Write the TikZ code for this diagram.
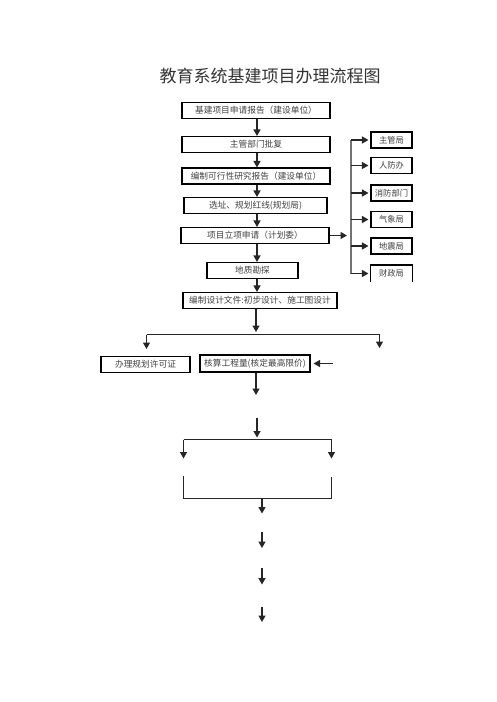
\documentclass[tikz,border=0pt]{standalone}
\usepackage{fontspec}
\setmainfont{Noto Sans CJK SC}
\usetikzlibrary{arrows.meta,calc}
\tikzset{
  box/.style={draw=black, line width=1.1pt, inner sep=0pt, minimum height=16pt, text=black!75, font=\fontsize{8.7}{10}\selectfont, align=center},
  sbox/.style={draw=black, line width=1.1pt, inner sep=0pt, minimum width=41pt, minimum height=16pt, text=black!75, font=\fontsize{8.3}{9}\selectfont},
  arr/.style={line width=1.3pt, draw=black!85, -{Triangle[width=7pt,length=6.5pt]}},
  ln/.style={line width=1.3pt, draw=black!85},
  gln/.style={line width=1.3pt, draw=black!55}
}
\begin{document}
\begin{tikzpicture}[x=1pt,y=-1pt]
\useasboundingbox (0,0) rectangle (496,702);
\node[font=\fontsize{17}{18}\selectfont, text=black!80] (title) at (270,76) {教育系统基建项目办理流程图};

\coordinate (ax) at (257,0);
\node[box, minimum width=148pt] (b1) at (256,110.5) {基建项目申请报告（建设单位）};
\node[box, minimum width=148pt] (b2) at (256,144.5) {主管部门批复};
\node[box, minimum width=148pt] (b3) at (256,176) {编制可行性研究报告（建设单位）};
\node[box, minimum width=143pt] (b4) at (255.5,205.5) {选址、规划红线(规划局)};
\node[box, minimum width=148pt] (b5) at (255,235.5) {项目立项申请（计划委）};
\node[box, minimum width=91pt] (b6) at (252.5,270.5) {地质勘探};
\node[box, minimum width=154pt] (b7) at (260,300.5) {编制设计文件:初步设计、施工图设计};

\draw[arr] (b1.south -| ax) -- (b2.north -| ax);
\draw[arr] (b2.south -| ax) -- (b3.north -| ax);
\draw[arr] (b3.south -| ax) -- (b4.north -| ax);
\draw[arr] (b4.south -| ax) -- (b5.north -| ax);
\draw[arr] (b5.south -| ax) -- (b6.north -| ax);
\draw[arr] (b6.south -| ax) -- (b7.north -| ax);

% right column
\node[sbox] (r1) at (391.5,140) {主管局};
\node[sbox] (r2) at (391.5,165.5) {人防办};
\node[sbox] (r3) at (391.5,193) {消防部门};
\node[sbox] (r4) at (391.5,219.5) {气象局};
\node[sbox] (r5) at (391.5,246) {地震局};
\node[sbox, draw=none] (r6) at (391.5,273.5) {财政局};
\draw[line width=1.1pt] (r6.south west) |- (r6.north east) -- (r6.south east);

\coordinate (bt) at (351,140);
\coordinate (bb) at (351,273.5);
\coordinate (bm) at (347,235.5);
\draw[gln] (bt) -- (bb);
\draw[arr] (b5.east) -- (bm);
\foreach \r in {r1,r2,r3,r4,r5,r6}{
  \draw[arr] (bt |- \r.west) -- ([xshift=-2pt]\r.west);
}

% lower part
\coordinate (s1) at (256,332);
\coordinate (hl) at (146.5,334.5);
\coordinate (hr) at (379.5,334.5);
\coordinate (hle) at (146.5,349);
\coordinate (hre) at (379.5,348);
\draw[arr] (b7.south -| s1) -- (s1);
\draw[ln] (hl) -- (hr);
\draw[arr] (hl) -- (hle);
\draw[arr] (hr) -- (hre);

\node[box, minimum width=89pt, minimum height=15.5pt] (c1) at (145.5,364.5) {办理规划许可证};
\node[box, minimum width=110pt, minimum height=17pt] (c2) at (255,363.5) {核算工程量(核定最高限价)};
\coordinate (cin) at (333,363.5);
\draw[arr] (cin) -- ([xshift=3pt]c2.east);
\coordinate (c2e) at (256,395);
\draw[arr] (c2.south -| c2e) -- (c2e);

\coordinate (d0) at (257,418);
\coordinate (d1) at (257,437.5);
\draw[arr] (d0) -- (d1);
\coordinate (dl) at (183.5,439.5);
\coordinate (dr) at (331.5,439.5);
\draw[ln] (dl) -- (dr);
\draw[arr] (dl) -- (183.5,458.5);
\draw[arr] (dr) -- (331.5,458.5);

\coordinate (el) at (183.5,476);
\coordinate (er) at (331.5,476.5);
\coordinate (em) at (262,498.5);
\draw[ln] (el) |- (em) -| (er);
\draw[arr] (em) -- (262,513.5);

\coordinate (f1) at (262,531.5);
\coordinate (f2) at (262,548);
\coordinate (g1) at (262,568);
\coordinate (g2) at (262,584.5);
\coordinate (h1) at (262,606.5);
\coordinate (h2) at (262,622);
\draw[arr] (f1) -- (f2);
\draw[arr] (g1) -- (g2);
\draw[arr] (h1) -- (h2);
\end{tikzpicture}
\end{document}
